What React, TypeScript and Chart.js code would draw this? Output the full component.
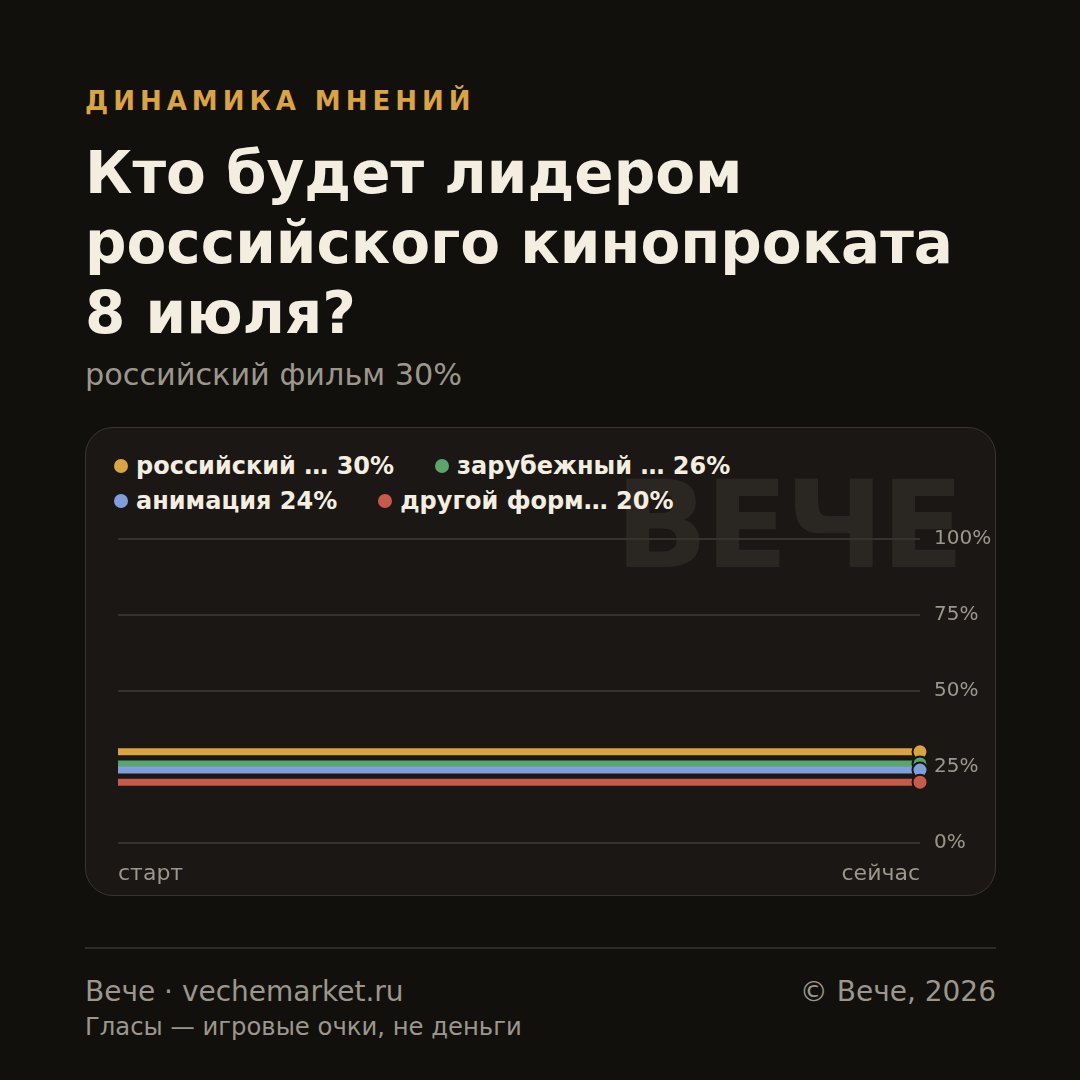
import React, { useEffect, useRef } from "react";
import { Chart, registerables } from "chart.js";

Chart.register(...registerables);

const categories = ["старт", "сейчас"];
const seriesNames = ["российский …", "зарубежный …", "анимация", "другой форм…"];
const russianFilm = [30, 30];
const foreignFilm = [26, 26];
const animation = [24, 24];
const otherFormat = [20, 20];
const seriesValues = [russianFilm, foreignFilm, animation, otherFormat];
const seriesColors = ["#d9a441", "#5aa56c", "#7f9fdc", "#c75b4b"];
const yTicks = [0, 25, 50, 75, 100];

const FONT = "'DejaVu Sans', sans-serif";
const BG = "#12100d";
const CARD = "#1a1714";
const MUTED = "#9c978c";
const LIGHT = "#f3eee0";

export default function App() {
  const ref = useRef<HTMLCanvasElement | null>(null);

  useEffect(() => {
    document.body.style.margin = "0";
    const canvas = ref.current;
    if (!canvas) return;
    const chart = new Chart(canvas, {
      type: "line",
      data: {
        labels: categories,
        datasets: seriesValues.map((vals, i) => ({
          label: seriesNames[i],
          data: vals,
          borderColor: seriesColors[i],
          backgroundColor: seriesColors[i],
          borderWidth: 7,
          pointRadius: [0, 7.5],
          pointHoverRadius: [0, 7.5],
          pointBorderWidth: 2,
          pointBorderColor: CARD,
          pointBackgroundColor: seriesColors[i],
          clip: false as any,
          order: seriesValues.length - 1 - i,
          tension: 0,
        })),
      },
      options: {
        animation: false,
        responsive: false,
        layout: { padding: { left: 33, top: 112, right: 0, bottom: 0 } },
        plugins: { legend: { display: false }, tooltip: { enabled: false } },
        scales: {
          x: {
            type: "category",
            offset: false,
            grid: { display: false, drawTicks: false },
            border: { display: false },
            ticks: {
              align: "inner",
              color: MUTED,
              font: { family: FONT, size: 22 },
              padding: 18,
              maxRotation: 0,
            },
            afterFit: (s: any) => {
              s.height = 53;
            },
          },
          y: {
            position: "right",
            min: 0,
            max: 100,
            afterBuildTicks: (s: any) => {
              s.ticks = yTicks.map((v) => ({ value: v }));
            },
            grid: { color: "#36322c", lineWidth: 2, drawTicks: false },
            border: { display: false },
            ticks: {
              color: MUTED,
              font: { family: FONT, size: 20 },
              padding: 14,
              callback: (v: any) => v + "%",
            },
            afterFit: (s: any) => {
              s.width = 76;
            },
          },
        },
      },
    });
    return () => chart.destroy();
  }, []);

  const abs = (o: React.CSSProperties): React.CSSProperties => ({ position: "absolute", whiteSpace: "nowrap", ...o });

  const legendRows = [
    [0, 1],
    [2, 3],
  ];

  return (
    <div style={{ position: "fixed", left: 0, top: 0, width: 1080, height: 1080, background: BG, fontFamily: FONT, overflow: "hidden" }}>
      <div style={abs({ left: 85, top: 88, fontSize: 26, lineHeight: "26px", fontWeight: 700, letterSpacing: 5, color: "#d9a441" })}>
        ДИНАМИКА МНЕНИЙ
      </div>
      <div style={abs({ left: 85, top: 138, fontSize: 58, lineHeight: "70px", fontWeight: 700, color: LIGHT })}>
        Кто будет лидером
        <br />
        российского кинопроката
        <br />8 июля?
      </div>
      <div style={abs({ left: 85, top: 360, fontSize: 30.3, lineHeight: "30px", color: MUTED })}>российский фильм 30%</div>

      <div
        style={abs({
          left: 85,
          top: 427,
          width: 911,
          height: 469,
          boxSizing: "border-box",
          border: "1.5px solid #3a362f",
          borderRadius: 28,
          background: CARD,
        })}
      />
      <div style={abs({ left: 615, top: 464, fontSize: 122, lineHeight: "122px", fontWeight: 700, letterSpacing: -3, color: "#2a2722" })}>ВЕЧЕ</div>
      {legendRows.map((row, r) => (
        <div key={r} style={abs({ left: 114, top: 454 + r * 35, height: 24, display: "flex", alignItems: "center", gap: 41 })}>
          {row.map((i) => (
            <div key={i} style={{ display: "flex", alignItems: "center", gap: 8 }}>
              <span style={{ width: 14, height: 14, borderRadius: 7, background: seriesColors[i], display: "inline-block" }} />
              <span style={{ fontSize: 24, lineHeight: "24px", fontWeight: 700, color: LIGHT }}>
                {seriesNames[i]} {seriesValues[i][seriesValues[i].length - 1]}%
              </span>
            </div>
          ))}
        </div>
      ))}
      <canvas ref={ref} width={911} height={469} style={abs({ left: 85, top: 427, width: 911, height: 469 })} />

      <div style={abs({ left: 85, top: 947, width: 911, height: 2, background: "#2f2b26" })} />
      <div style={abs({ left: 85, top: 978, fontSize: 28, lineHeight: "28px", color: MUTED })}>Вече · vechemarket.ru</div>
      <div style={abs({ right: 84, top: 978, fontSize: 28, lineHeight: "28px", color: MUTED })}>© Вече, 2026</div>
      <div style={abs({ left: 85, top: 1015, fontSize: 24.3, lineHeight: "24px", color: MUTED })}>Гласы — игровые очки, не деньги</div>
    </div>
  );
}
